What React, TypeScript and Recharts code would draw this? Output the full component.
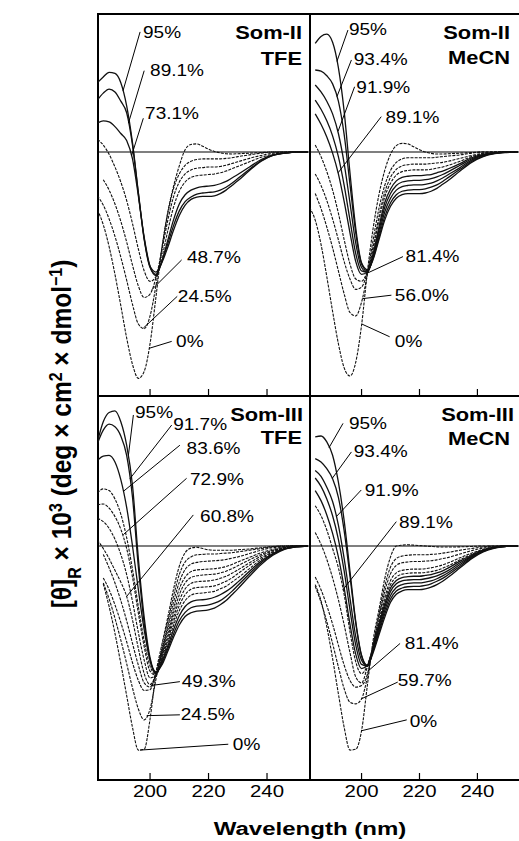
import React from 'react'
import {
  LineChart,
  Line,
  XAxis,
  YAxis,
  ReferenceArea,
  ReferenceDot,
  ReferenceLine,
} from 'recharts'

const FONT = '"Liberation Sans", Arial, Helvetica, sans-serif'

// wavelength grid (nm)
const wavelengths = [
  182, 184, 186, 188, 190, 192, 194, 196, 198, 200, 202, 204, 206, 208, 210, 212, 214, 216, 218, 220, 222,
  224, 226, 228, 230, 234, 238, 242, 246, 250, 254,
]

// Som-II in TFE
const tfe2_95 = [6.0, 6.5, 6.9, 6.8, 6.0, 4.0, 0.8, -3.5, -7.5, -9.9, -10.4, -9.6, -8.3, -6.8, -5.5, -4.6, -4.1, -3.9, -3.85, -3.85, -3.8, -3.6, -3.3, -2.9, -2.5, -1.6, -0.8, -0.3, -0.1, 0, 0]
const tfe2_89 = [4.5, 5.1, 5.45, 5.2, 4.4, 3.4, 0.6, -3.6, -7.6, -10.0, -10.6, -9.5, -8.0, -6.4, -5.1, -4.3, -3.9, -3.65, -3.55, -3.5, -3.45, -3.3, -3.05, -2.7, -2.3, -1.5, -0.75, -0.3, -0.1, 0, 0]
const tfe2_73 = [2.5, 2.7, 2.6, 2.2, 1.6, 1.0, -0.6, -3.8, -7.4, -9.9, -10.7, -9.5, -7.7, -5.9, -4.5, -3.7, -3.3, -3.1, -3.0, -2.95, -2.9, -2.75, -2.55, -2.25, -1.95, -1.3, -0.65, -0.25, -0.1, 0, 0]
const tfe2_60 = [1.1, 0.6, -0.2, -1.3, -2.6, -4.2, -6.2, -8.4, -10.3, -11.2, -10.8, -9.2, -6.9, -4.8, -3.4, -2.6, -2.2, -2.05, -2.0, -1.95, -1.9, -1.8, -1.65, -1.45, -1.25, -0.85, -0.45, -0.2, -0.05, 0, 0]
const tfe2_49 = [null, -2.4, -3.3, -4.5, -6.0, -7.8, -9.8, -11.6, -12.6, -12.3, -10.9, -8.6, -6.0, -3.9, -2.6, -1.9, -1.55, -1.4, -1.35, -1.3, -1.3, -1.25, -1.15, -1.0, -0.85, -0.55, -0.3, -0.1, 0, 0, 0]
const tfe2_25 = [-3.8, -4.6, -5.8, -7.3, -9.1, -11.1, -13.2, -14.9, -15.3, -14.2, -11.6, -8.4, -5.4, -3.2, -1.9, -1.15, -0.8, -0.65, -0.6, -0.6, -0.6, -0.6, -0.55, -0.5, -0.4, -0.25, -0.1, 0, 0, 0, 0]
const tfe2_0 = [-5.0, -6.3, -8.2, -10.6, -13.3, -16.1, -18.4, -19.6, -19.0, -16.6, -12.6, -8.4, -5.3, -3.0, -1.2, 0.2, 0.65, 0.7, 0.5, 0.25, 0.05, -0.08, -0.15, -0.17, -0.15, -0.1, -0.05, 0, 0, 0, 0]

// Som-II in MeCN
const mecn2_95 = [null, 9.4, 10.0, 10.2, 9.5, 7.3, 3.5, -1.8, -6.6, -9.6, -10.2, -9.3, -7.6, -5.9, -4.7, -4.0, -3.7, -3.6, -3.6, -3.6, -3.55, -3.4, -3.15, -2.8, -2.45, -1.65, -0.9, -0.4, -0.15, -0.05, 0]
const mecn2_93 = [null, 7.1, 7.0, 6.6, 5.9, 4.4, 1.5, -2.8, -7.0, -9.7, -10.3, -9.2, -7.4, -5.6, -4.4, -3.7, -3.4, -3.3, -3.25, -3.25, -3.2, -3.05, -2.85, -2.55, -2.2, -1.5, -0.8, -0.35, -0.12, -0.03, 0]
const mecn2_92 = [null, 5.8, 5.2, 4.4, 3.3, 1.6, -1.0, -4.4, -7.9, -10.0, -10.4, -9.1, -7.1, -5.2, -4.0, -3.3, -3.0, -2.9, -2.85, -2.85, -2.8, -2.7, -2.5, -2.25, -1.95, -1.35, -0.7, -0.3, -0.1, 0, 0]
const mecn2_u1 = [null, 4.5, 3.7, 2.7, 1.4, -0.4, -2.9, -5.9, -8.8, -10.3, -10.4, -9.0, -6.8, -4.8, -3.6, -2.9, -2.6, -2.5, -2.45, -2.45, -2.4, -2.3, -2.15, -1.95, -1.7, -1.15, -0.6, -0.25, -0.1, 0, 0]
const mecn2_89 = [null, 3.3, 2.4, 1.3, -0.1, -1.9, -4.3, -7.0, -9.5, -10.6, -10.4, -8.8, -6.5, -4.4, -3.2, -2.5, -2.2, -2.1, -2.05, -2.05, -2.0, -1.95, -1.8, -1.65, -1.45, -1.0, -0.5, -0.2, -0.05, 0, 0]
const mecn2_u2 = [null, 0.6, -0.4, -1.7, -3.3, -5.3, -7.6, -9.7, -11.0, -11.2, -10.3, -8.4, -5.9, -3.9, -2.7, -2.0, -1.7, -1.6, -1.55, -1.55, -1.55, -1.5, -1.4, -1.3, -1.15, -0.8, -0.4, -0.15, -0.05, 0, 0]
const mecn2_81 = [null, -1.9, -2.9, -4.2, -5.8, -7.6, -9.5, -11.0, -11.9, -11.7, -10.4, -8.2, -5.6, -3.5, -2.2, -1.5, -1.2, -1.1, -1.05, -1.05, -1.05, -1.0, -0.95, -0.9, -0.8, -0.55, -0.3, -0.1, 0, 0, 0]
const mecn2_56 = [null, -3.6, -4.9, -6.5, -8.3, -10.3, -12.3, -13.9, -14.2, -13.0, -10.6, -7.6, -4.9, -2.9, -1.6, -0.9, -0.6, -0.5, -0.5, -0.5, -0.5, -0.5, -0.45, -0.4, -0.35, -0.25, -0.1, 0, 0, 0, 0]
const mecn2_0 = [-4.8, -5.9, -8.0, -10.8, -13.8, -16.6, -18.7, -19.4, -18.2, -15.0, -10.4, -6.6, -3.7, -1.6, -0.2, 0.55, 0.75, 0.7, 0.45, 0.2, 0.0, -0.12, -0.18, -0.18, -0.15, -0.1, -0.05, 0, 0, 0, 0]

// Som-III in TFE
const tfe3_95 = [12.4, 14.8, 15.9, 16.1, 14.8, 12.0, 7.2, -1.5, -8.5, -13.3, -15.0, -14.2, -12.6, -10.9, -9.4, -8.4, -7.95, -7.75, -7.7, -7.6, -7.4, -7.0, -6.5, -5.8, -5.1, -3.6, -2.2, -1.1, -0.4, -0.1, 0]
const tfe3_92 = [12.2, 13.8, 14.5, 14.2, 13.1, 10.8, 5.8, -2.5, -9.2, -13.6, -15.1, -14.0, -12.3, -10.5, -8.9, -7.9, -7.35, -7.15, -7.1, -7.0, -6.8, -6.5, -6.0, -5.4, -4.7, -3.3, -2.0, -1.0, -0.35, -0.1, 0]
const tfe3_84 = [10.2, 10.7, 10.8, 10.0, 7.9, 4.6, 0.0, -5.2, -10.0, -13.6, -15.2, -13.8, -12.0, -10.0, -8.3, -7.2, -6.65, -6.45, -6.4, -6.3, -6.1, -5.8, -5.4, -4.9, -4.3, -3.0, -1.8, -0.9, -0.3, -0.1, 0]
const tfe3_u1 = [6.3, 6.8, 6.6, 5.6, 3.8, 1.0, -2.8, -7.2, -11.3, -14.3, -15.3, -13.6, -11.6, -9.5, -7.7, -6.5, -5.85, -5.65, -5.6, -5.5, -5.4, -5.1, -4.8, -4.3, -3.8, -2.7, -1.6, -0.8, -0.3, -0.05, 0]
const tfe3_73 = [4.9, 5.0, 4.5, 3.5, 2.0, -0.3, -3.7, -8.0, -12.0, -14.9, -15.4, -13.4, -11.3, -9.0, -7.1, -5.8, -5.15, -4.95, -4.9, -4.85, -4.75, -4.5, -4.2, -3.8, -3.3, -2.3, -1.4, -0.7, -0.25, -0.05, 0]
const tfe3_u2 = [3.3, 2.9, 2.1, 0.8, -1.0, -3.4, -6.6, -10.3, -13.6, -15.7, -15.4, -13.2, -10.9, -8.5, -6.5, -5.1, -4.45, -4.25, -4.2, -4.15, -4.05, -3.85, -3.6, -3.25, -2.85, -2.0, -1.2, -0.6, -0.2, 0, 0]
const tfe3_61 = [0.7, -0.3, -1.5, -2.9, -4.3, -6.0, -8.8, -12.2, -15.2, -16.5, -15.3, -13.0, -10.5, -8.0, -5.8, -4.4, -3.75, -3.55, -3.45, -3.4, -3.35, -3.2, -3.0, -2.7, -2.35, -1.65, -1.0, -0.5, -0.15, 0, 0]
const tfe3_u3 = [null, -1.0, -2.6, -4.4, -6.5, -8.9, -11.6, -14.2, -16.3, -16.8, -15.3, -12.8, -10.1, -7.4, -5.1, -3.7, -3.05, -2.85, -2.8, -2.75, -2.7, -2.6, -2.45, -2.2, -1.9, -1.35, -0.8, -0.4, -0.1, 0, 0]
const tfe3_49 = [null, -3.8, -5.2, -7.0, -9.1, -11.4, -13.9, -16.0, -17.2, -17.1, -15.0, -12.5, -9.6, -6.7, -4.3, -2.8, -2.15, -1.95, -1.85, -1.8, -1.75, -1.7, -1.6, -1.45, -1.3, -0.9, -0.5, -0.2, -0.05, 0, 0]
const tfe3_25 = [null, -4.4, -6.3, -8.6, -11.2, -14.0, -16.9, -19.4, -20.7, -19.4, -15.9, -12.2, -9.1, -6.0, -3.4, -1.9, -1.3, -1.05, -1.0, -0.95, -0.95, -0.9, -0.85, -0.8, -0.7, -0.5, -0.3, -0.1, 0, 0, 0]
const tfe3_0 = [null, -4.5, -7.2, -10.4, -14.0, -17.8, -21.6, -24.3, -24.2, -20.6, -15.2, -11.8, -8.6, -5.2, -2.4, -0.8, -0.25, -0.15, -0.3, -0.45, -0.5, -0.5, -0.5, -0.5, -0.45, -0.35, -0.2, -0.05, 0, 0, 0]

// Som-III in MeCN
const mecn3_95 = [null, 13.0, 13.1, 12.4, 10.8, 7.6, 3.0, -3.0, -9.0, -13.0, -14.2, -12.7, -10.6, -8.5, -6.7, -5.75, -5.35, -5.2, -5.2, -5.2, -5.1, -4.9, -4.6, -4.2, -3.7, -2.6, -1.5, -0.7, -0.25, -0.05, 0]
const mecn3_93 = [null, 10.4, 10.0, 9.2, 8.0, 5.8, 1.8, -3.6, -9.2, -13.1, -14.3, -12.5, -10.3, -8.1, -6.3, -5.35, -5.0, -4.85, -4.8, -4.8, -4.7, -4.5, -4.2, -3.85, -3.4, -2.4, -1.4, -0.65, -0.2, -0.05, 0]
const mecn3_92 = [null, 9.0, 8.3, 7.0, 5.3, 2.5, -1.5, -6.2, -10.8, -13.6, -14.3, -12.3, -10.0, -7.7, -5.9, -4.95, -4.6, -4.45, -4.4, -4.4, -4.3, -4.15, -3.9, -3.55, -3.15, -2.2, -1.3, -0.6, -0.2, -0.05, 0]
const mecn3_u1 = [null, 8.1, 7.1, 5.6, 3.6, 0.8, -3.0, -7.6, -11.8, -14.1, -14.3, -12.2, -9.7, -7.3, -5.4, -4.5, -4.15, -4.05, -4.0, -4.0, -3.9, -3.75, -3.55, -3.25, -2.9, -2.0, -1.2, -0.55, -0.2, 0, 0]
const mecn3_u2 = [null, 6.6, 5.4, 3.7, 1.5, -1.3, -5.0, -9.3, -12.9, -14.6, -14.2, -12.1, -9.4, -6.9, -5.0, -4.1, -3.75, -3.65, -3.6, -3.6, -3.5, -3.4, -3.2, -2.95, -2.6, -1.8, -1.1, -0.5, -0.15, 0, 0]
const mecn3_89 = [null, 4.8, 3.6, 1.9, -0.3, -2.6, -5.8, -10.2, -13.8, -15.2, -14.2, -12.0, -9.2, -6.5, -4.6, -3.7, -3.35, -3.25, -3.2, -3.2, -3.15, -3.05, -2.9, -2.65, -2.35, -1.65, -1.0, -0.45, -0.15, 0, 0]
const mecn3_u3 = [null, 1.6, 0.2, -1.6, -3.8, -6.4, -9.4, -12.7, -15.6, -16.3, -14.4, -11.9, -8.9, -6.1, -4.1, -3.2, -2.9, -2.8, -2.75, -2.75, -2.7, -2.6, -2.45, -2.25, -2.0, -1.4, -0.85, -0.4, -0.1, 0, 0]
const mecn3_81 = [null, -3.7, -5.2, -7.1, -9.3, -11.8, -14.2, -16.0, -16.8, -16.6, -15.3, -11.9, -8.5, -5.4, -3.3, -2.3, -2.0, -1.9, -1.85, -1.85, -1.8, -1.75, -1.65, -1.5, -1.35, -0.95, -0.55, -0.25, -0.05, 0, 0]
const mecn3_60 = [null, -4.8, -6.7, -9.0, -11.6, -14.4, -17.0, -18.6, -18.8, -18.2, -15.6, -11.8, -8.1, -4.8, -2.5, -1.5, -1.2, -1.1, -1.05, -1.05, -1.05, -1.0, -0.95, -0.85, -0.75, -0.5, -0.3, -0.1, 0, 0, 0]
const mecn3_0 = [null, -4.6, -6.5, -9.6, -13.4, -17.6, -21.6, -24.3, -24.2, -22.0, -16.6, -11.2, -7.6, -3.9, -1.3, 0.0, 0.1, 0.15, 0.1, 0.05, 0, -0.05, -0.1, -0.12, -0.12, -0.1, -0.05, 0, 0, 0, 0]

const X_DOMAIN: [number, number] = [182.2, 254.7]
const X_TICKS = [200, 220, 240]
const TOP_DOMAIN: [number, number] = [-21.13, 11.95]
const BOTTOM_DOMAIN: [number, number] = [-27.86, 17.86]
const TOP_TICKS = [10, 5, -5, -10, -15]
const BOTTOM_TICKS = [10, 5, -5, -10, -15, -20]

type Curve = { key: string; values: (number | null)[]; dashed?: boolean }
type Note = { text: string; tx: number; ty: number; x1: number; y1: number; x2: number; y2: number }

const som2Tfe: Curve[] = [
  { key: 'p95', values: tfe2_95 },
  { key: 'p89', values: tfe2_89 },
  { key: 'p73', values: tfe2_73 },
  { key: 'p60', values: tfe2_60, dashed: true },
  { key: 'p49', values: tfe2_49, dashed: true },
  { key: 'p25', values: tfe2_25, dashed: true },
  { key: 'p0', values: tfe2_0, dashed: true },
]
const som2TfeNotes: Note[] = [
  { text: '95%', tx: 197.6, ty: 9.87, x1: 196.6, y1: 10.4, x2: 190.75, y2: 5.3 },
  { text: '89.1%', tx: 200.0, ty: 6.58, x1: 198.0, y1: 7.04, x2: 192.6, y2: 2.5 },
  { text: '73.1%', tx: 198.3, ty: 2.86, x1: 197.7, y1: 2.92, x2: 193.7, y2: -0.3 },
  { text: '48.7%', tx: 212.6, ty: -9.6, x1: 210.8, y1: -9.35, x2: 200.5, y2: -11.95 },
  { text: '24.5%', tx: 209.5, ty: -13.0, x1: 209.3, y1: -12.5, x2: 197.7, y2: -15.25 },
  { text: '0%', tx: 208.9, ty: -16.9, x1: 207.4, y1: -16.4, x2: 199.7, y2: -17.0 },
]

const som2Mecn: Curve[] = [
  { key: 'p95', values: mecn2_95 },
  { key: 'p93', values: mecn2_93 },
  { key: 'p92', values: mecn2_92 },
  { key: 'u1', values: mecn2_u1 },
  { key: 'p89', values: mecn2_89 },
  { key: 'u2', values: mecn2_u2, dashed: true },
  { key: 'p81', values: mecn2_81, dashed: true },
  { key: 'p56', values: mecn2_56, dashed: true },
  { key: 'p0', values: mecn2_0, dashed: true },
]
const som2MecnNotes: Note[] = [
  { text: '95%', tx: 195.65, ty: 10.13, x1: 195.3, y1: 10.56, x2: 191.5, y2: 7.85 },
  { text: '93.4%', tx: 197.3, ty: 7.53, x1: 196.5, y1: 7.97, x2: 191.5, y2: 4.8 },
  { text: '91.9%', tx: 198.2, ty: 5.08, x1: 197.6, y1: 5.65, x2: 191.9, y2: 1.8 },
  { text: '89.1%', tx: 208.3, ty: 2.48, x1: 206.8, y1: 3.06, x2: 191.9, y2: -1.8 },
  { text: '81.4%', tx: 215.2, ty: -9.5, x1: 214.3, y1: -9.06, x2: 201.9, y2: -10.5 },
  { text: '56.0%', tx: 211.5, ty: -12.9, x1: 210.3, y1: -12.4, x2: 200.3, y2: -12.7 },
  { text: '0%', tx: 211.5, ty: -16.9, x1: 209.7, y1: -16.0, x2: 200.1, y2: -14.9 },
]

const som3Tfe: Curve[] = [
  { key: 'p95', values: tfe3_95 },
  { key: 'p92', values: tfe3_92 },
  { key: 'p84', values: tfe3_84 },
  { key: 'u1', values: tfe3_u1, dashed: true },
  { key: 'p73', values: tfe3_73, dashed: true },
  { key: 'u2', values: tfe3_u2, dashed: true },
  { key: 'p61', values: tfe3_61, dashed: true },
  { key: 'u3', values: tfe3_u3, dashed: true },
  { key: 'p49', values: tfe3_49, dashed: true },
  { key: 'p25', values: tfe3_25, dashed: true },
  { key: 'p0', values: tfe3_0, dashed: true },
]
const som3TfeNotes: Note[] = [
  { text: '95%', tx: 194.85, ty: 15.2, x1: 194.3, y1: 15.6, x2: 192.6, y2: 10.8 },
  { text: '91.7%', tx: 207.9, ty: 13.8, x1: 207.4, y1: 14.4, x2: 193.1, y2: 8.0 },
  { text: '83.6%', tx: 212.5, ty: 11.0, x1: 210.2, y1: 12.0, x2: 190.85, y2: 6.5 },
  { text: '72.9%', tx: 213.65, ty: 7.26, x1: 212.5, y1: 8.06, x2: 190.85, y2: 1.35 },
  { text: '60.8%', tx: 217.1, ty: 2.9, x1: 214.8, y1: 3.7, x2: 192.0, y2: -6.0 },
  { text: '49.3%', tx: 210.8, ty: -16.8, x1: 210.2, y1: -16.15, x2: 200.55, y2: -16.6 },
  { text: '24.5%', tx: 210.5, ty: -20.7, x1: 210.2, y1: -20.1, x2: 198.85, y2: -20.2 },
  { text: '0%', tx: 228.3, ty: -24.3, x1: 226.75, y1: -23.6, x2: 196.55, y2: -24.3 },
]

const som3Mecn: Curve[] = [
  { key: 'p95', values: mecn3_95 },
  { key: 'p93', values: mecn3_93 },
  { key: 'p92', values: mecn3_92 },
  { key: 'u1', values: mecn3_u1 },
  { key: 'u2', values: mecn3_u2 },
  { key: 'p89', values: mecn3_89, dashed: true },
  { key: 'u3', values: mecn3_u3, dashed: true },
  { key: 'p81', values: mecn3_81, dashed: true },
  { key: 'p60', values: mecn3_60, dashed: true },
  { key: 'p0', values: mecn3_0, dashed: true },
]
const som3MecnNotes: Note[] = [
  { text: '95%', tx: 195.65, ty: 13.9, x1: 193.6, y1: 14.6, x2: 188.75, y2: 11.7 },
  { text: '93.4%', tx: 197.3, ty: 10.6, x1: 196.5, y1: 11.2, x2: 189.9, y2: 8.06 },
  { text: '91.9%', tx: 201.1, ty: 5.95, x1: 199.9, y1: 6.67, x2: 191.3, y2: 3.5 },
  { text: '89.1%', tx: 212.9, ty: 2.1, x1: 212.0, y1: 2.9, x2: 193.6, y2: -5.2 },
  { text: '81.4%', tx: 214.9, ty: -12.3, x1: 213.3, y1: -11.6, x2: 202.2, y2: -14.9 },
  { text: '59.7%', tx: 212.5, ty: -16.7, x1: 212.5, y1: -16.2, x2: 199.9, y2: -18.2 },
  { text: '0%', tx: 216.6, ty: -21.5, x1: 215.6, y1: -20.7, x2: 199.9, y2: -22.0 },
]

const ML = 50
const MR = 10
const MT = 10
const XH = 30

function fmt(v: number) {
  return v < 0 ? '\u2212' + Math.abs(v) : String(v)
}

function XTick(props: any) {
  const { x, y, payload, showLabel } = props
  return (
    <g>
      <line x1={x} x2={x} y1={y} y2={y - 7} stroke="#000" strokeWidth={1.2} />
      {showLabel && (
        <text
          transform={`translate(${x} ${y + 17}) scale(1.2 1)`}
          textAnchor="middle"
          fontSize={17}
          fontFamily={FONT}
          fill="#000"
        >
          {payload.value}
        </text>
      )}
    </g>
  )
}

function YTick(props: any) {
  const { x, y, payload } = props
  return (
    <g>
      <line x1={x} x2={x + 6} y1={y} y2={y} stroke="#000" strokeWidth={1.2} />
      <text
        transform={`translate(${x - 8} ${y + 6}) scale(1.15 1)`}
        textAnchor="end"
        fontSize={17}
        fontFamily={FONT}
        fill="#000"
      >
        {fmt(payload.value)}
      </text>
    </g>
  )
}

function Panel(props: {
  left: number
  top: number
  width: number
  height: number
  curves: Curve[]
  notes: Note[]
  yDomain: [number, number]
  yTicks: number[]
  yLabels: boolean
  xLabels: boolean
}) {
  const { left, top, width, height, curves, notes, yDomain, yTicks, yLabels, xLabels } = props
  const rows = wavelengths.map((nm, i) => {
    const row: Record<string, number | null> = { nm }
    curves.forEach((c) => {
      row[c.key] = c.values[i]
    })
    return row
  })

  return (
    <div style={{ position: 'absolute', left: left - ML, top: top - MT }}>
      <LineChart
        width={width + ML + MR}
        height={height + MT + XH}
        data={rows}
        margin={{ top: MT, right: MR, bottom: 0, left: ML }}
      >
        <XAxis
          dataKey="nm"
          type="number"
          domain={X_DOMAIN}
          ticks={X_TICKS}
          allowDataOverflow
          interval={0}
          height={XH}
          tickSize={0}
          tickMargin={0}
          axisLine={false}
          tickLine={false}
          tick={(p: any) => <XTick {...p} showLabel={xLabels} />}
        />
        <YAxis
          type="number"
          domain={yDomain}
          ticks={yTicks}
          allowDataOverflow
          interval={0}
          width={0}
          tickSize={0}
          tickMargin={0}
          axisLine={false}
          tickLine={false}
          tick={yLabels ? (p: any) => <YTick {...p} /> : false}
        />
        <ReferenceArea
          x1={X_DOMAIN[0]}
          x2={X_DOMAIN[1]}
          y1={yDomain[0]}
          y2={yDomain[1]}
          fill="none"
          stroke="#000"
          strokeWidth={2}
          ifOverflow="visible"
        />
        <ReferenceLine y={0} stroke="#000" strokeWidth={1.2} />
        {curves.map((c) => (
          <Line
            key={c.key}
            dataKey={c.key}
            type="monotone"
            stroke="#111"
            strokeWidth={c.dashed ? 1.1 : 1.3}
            strokeDasharray={c.dashed ? '3 1.2' : undefined}
            dot={false}
            activeDot={false}
            connectNulls={false}
            isAnimationActive={false}
          />
        ))}
        {notes.map((n, i) => (
          <ReferenceLine
            key={'l' + i}
            segment={[
              { x: n.x1, y: n.y1 },
              { x: n.x2, y: n.y2 },
            ]}
            stroke="#000"
            strokeWidth={1}
            ifOverflow="visible"
          />
        ))}
        {notes.map((n, i) => (
          <ReferenceDot
            key={'t' + i}
            x={n.tx}
            y={n.ty}
            r={1}
            ifOverflow="visible"
            shape={(p: any) => (
              <text
                transform={`translate(${p.cx} ${p.cy}) scale(1.12 1)`}
                fontSize={17}
                fontFamily={FONT}
                fill="#000"
              >
                {n.text}
              </text>
            )}
          />
        ))}
      </LineChart>
    </div>
  )
}

function Title({ x, y, text }: { x: number; y: number; text: string }) {
  return (
    <text
      transform={`translate(${x} ${y}) scale(1.15 1)`}
      textAnchor="end"
      fontSize={19}
      fontWeight="bold"
      fontFamily={FONT}
      fill="#000"
    >
      {text}
    </text>
  )
}

export default function App() {
  return (
    <div
      style={{
        position: 'fixed',
        left: 0,
        top: 0,
        width: 519,
        height: 841,
        overflow: 'hidden',
        background: '#fff',
        fontFamily: FONT,
      }}
    >
      <Panel left={98} top={14} width={212} height={382} curves={som2Tfe} notes={som2TfeNotes}
        yDomain={TOP_DOMAIN} yTicks={TOP_TICKS} yLabels xLabels={false} />
      <Panel left={310} top={14} width={210} height={382} curves={som2Mecn} notes={som2MecnNotes}
        yDomain={TOP_DOMAIN} yTicks={TOP_TICKS} yLabels={false} xLabels={false} />
      <Panel left={98} top={396} width={212} height={384} curves={som3Tfe} notes={som3TfeNotes}
        yDomain={BOTTOM_DOMAIN} yTicks={BOTTOM_TICKS} yLabels xLabels />
      <Panel left={310} top={396} width={210} height={384} curves={som3Mecn} notes={som3MecnNotes}
        yDomain={BOTTOM_DOMAIN} yTicks={BOTTOM_TICKS} yLabels={false} xLabels />

      <svg width={519} height={841} style={{ position: 'absolute', left: 0, top: 0, pointerEvents: 'none' }}>
        <Title x={302} y={39} text="Som-II" />
        <Title x={302} y={65} text="TFE" />
        <Title x={510} y={39} text="Som-II" />
        <Title x={510} y={64} text="MeCN" />
        <Title x={303} y={421} text="Som-III" />
        <Title x={302} y={444} text="TFE" />
        <Title x={514} y={421} text="Som-III" />
        <Title x={510} y={445} text="MeCN" />

        <text
          transform="translate(310 835) scale(1.3 1)"
          textAnchor="middle"
          fontSize={18.5}
          fontWeight="bold"
          fontFamily={FONT}
          fill="#000"
        >
          Wavelength (nm)
        </text>

        <text
          transform="translate(71 434) rotate(-90) scale(1 1.1)"
          textAnchor="middle"
          fontSize={24.5}
          fontWeight="bold"
          fontFamily={FONT}
          fill="#000"
        >
          [θ]<tspan baselineShift="sub" fontSize={16}>R</tspan> × 10
          <tspan baselineShift="super" fontSize={16}>3</tspan> (deg × cm
          <tspan baselineShift="super" fontSize={16}>2</tspan> × dmol
          <tspan baselineShift="super" fontSize={16}>−1</tspan>)
        </text>
      </svg>
    </div>
  )
}
